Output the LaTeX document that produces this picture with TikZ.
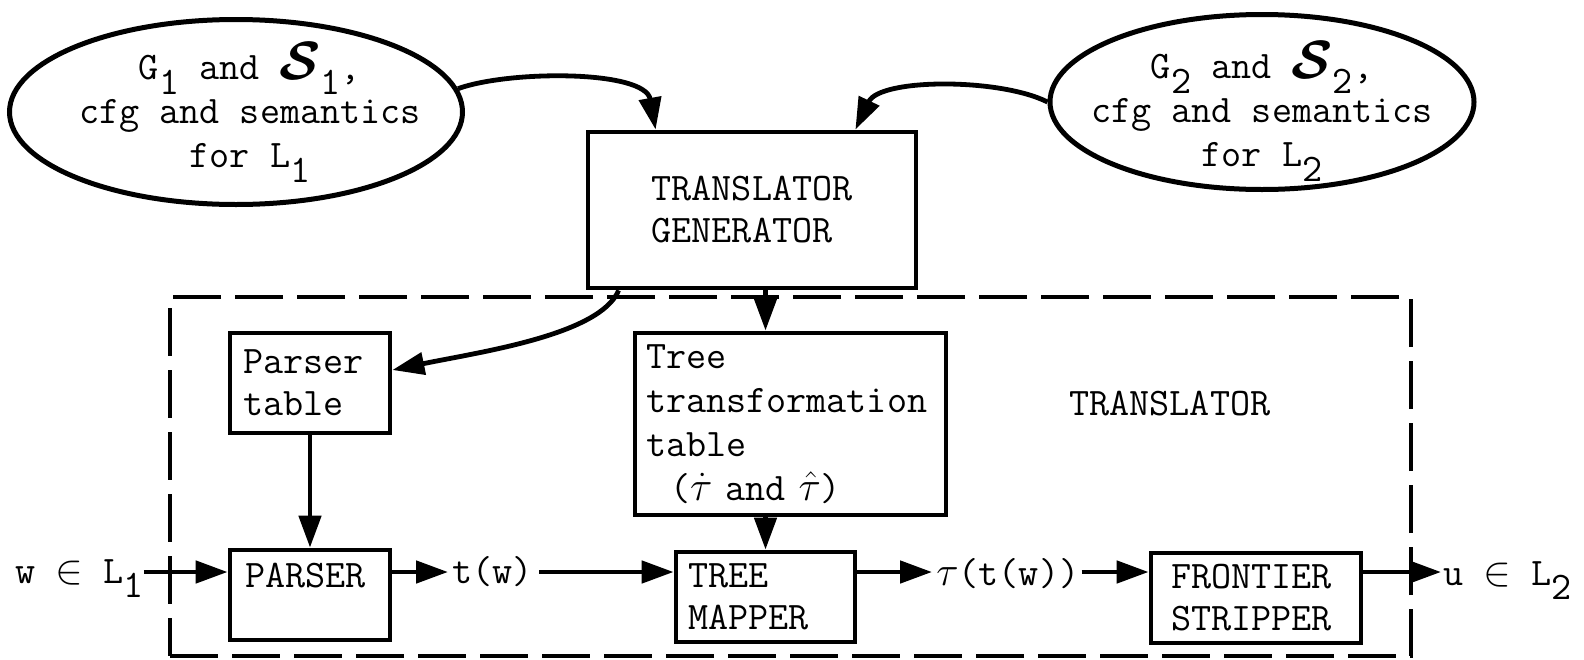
\documentclass[tikz,border=0pt]{standalone}
\usepackage{amsmath}
\usepackage{graphicx}
\usetikzlibrary{arrows.meta,shapes.geometric}
\newcommand\sublow[1]{\raisebox{-0.38em}[0pt][0pt]{#1}}
\newcommand\scrS{\scalebox{1.3}{$\boldsymbol{\mathcal{S}}$}}
\begin{document}
\begin{tikzpicture}[x=0.5pt,y=-0.5pt,
  every node/.style={font=\fontsize{19.5}{21}\selectfont\ttfamily, inner sep=0pt},
  box/.style={draw, line width=2.4pt, rectangle, align=left},
  blob/.style={draw, line width=2.5pt, ellipse},
  lbl/.style={anchor=base west},
  arr/.style={line width=2.4pt, -{Triangle[length=16pt,width=11pt]}},
  frame/.style={draw, line width=2.2pt, dash pattern=on 24pt off 7pt},
]
\useasboundingbox (0,0) rectangle (1584,659);

% input descriptions
\node[blob, minimum width=226.5pt, minimum height=92.5pt] (e1) at (236,112) {};
\node[align=center, anchor=north, font=\fontsize{19.5}{22}\selectfont\ttfamily] (e1t) at (250,42)
  {\strut G\sublow{1} and \scrS\sublow{1},\\cfg and semantics\\for L\sublow{1}};
\node[blob, minimum width=212pt, minimum height=87.5pt] (e2) at (1262,102) {};
\node[align=center, anchor=north, font=\fontsize{19.5}{22}\selectfont\ttfamily] (e2t) at (1262,41)
  {\strut G\sublow{2} and \scrS\sublow{2},\\cfg and semantics\\for L\sublow{2}};

% generator
\node[box, minimum width=164pt, minimum height=78pt] (tg) at (752,210) {TRANSLATOR\\GENERATOR};

% translator frame
\node[frame, minimum width=620.5pt, minimum height=179.5pt] (fr) at (790.5,476.5) {};
\node[lbl] (trl) at (1069,415) {TRANSLATOR};

% tables
\node[box, minimum width=80pt, minimum height=50pt, inner xsep=6.5pt, text width=67pt] (pt) at (310,383) {Parser\\table};
\node[box, minimum width=155.5pt, minimum height=91pt, inner xsep=5.5pt, text width=144.5pt,
      font=\fontsize{19.5}{22}\selectfont\ttfamily] (tt) at (790.5,424)
  {Tree\\transformation\\table\\\hspace*{12pt}($\dot\tau$ and $\hat\tau$)};

% pipeline
\node[box, minimum width=80pt, minimum height=45pt, inner xsep=7.5pt, text width=65pt, text height=12pt, text depth=20pt] (parser) at (310,595) {PARSER};
\node[box, minimum width=89.5pt, minimum height=45pt, inner xsep=6pt, text width=77.5pt] (tm) at (765.5,597) {TREE\\MAPPER};
\node[box, minimum width=105pt, minimum height=45pt, inner xsep=10pt, text width=85pt] (fs) at (1256,598) {FRONTIER\\STRIPPER};

\node[lbl] (win) at (15,583) {w $\in$ L\sublow{1}};
\node[lbl] (tw) at (452,583) {t(w)};
\node[lbl] (ttw) at (936,585) {$\tau$(t(w))};
\node[lbl] (uin) at (1443,585) {u $\in$ L\sublow{2}};
\coordinate (row) at (0,572);

% connectors
\draw[arr] (e1.6) .. controls (510,70) and (645,70) .. ([xshift=35pt]tg.north west);
\draw[arr] (e2.west) .. controls (1000,78) and (880,78) .. ([xshift=-31.5pt]tg.north east);
\draw[arr] ([xshift=16.5pt]tg.south west) .. controls (600,335) and (480,352) .. ([yshift=6.5pt]pt.east);
\draw[arr] (tg.south -| tm.north) -- (tt.north -| tm.north);
\draw[arr] (pt.south) -- (parser.north);
\draw[arr] (tm.north |- tt.south) -- (tm.north);

\draw[arr] (win.east |- row) -- (parser.west |- row);
\draw[arr] (parser.east |- row) -- ([xshift=-2pt]tw.west |- row);
\draw[arr] ([xshift=3pt]tw.east |- row) -- (tm.west |- row);
\draw[arr] (tm.east |- row) -- ([xshift=-2pt]ttw.west |- row);
\draw[arr] ([xshift=1pt]ttw.east |- row) -- (fs.west |- row);
\draw[arr] (fs.east |- row) -- ([xshift=-1pt]uin.west |- row);
\end{tikzpicture}
\end{document}
